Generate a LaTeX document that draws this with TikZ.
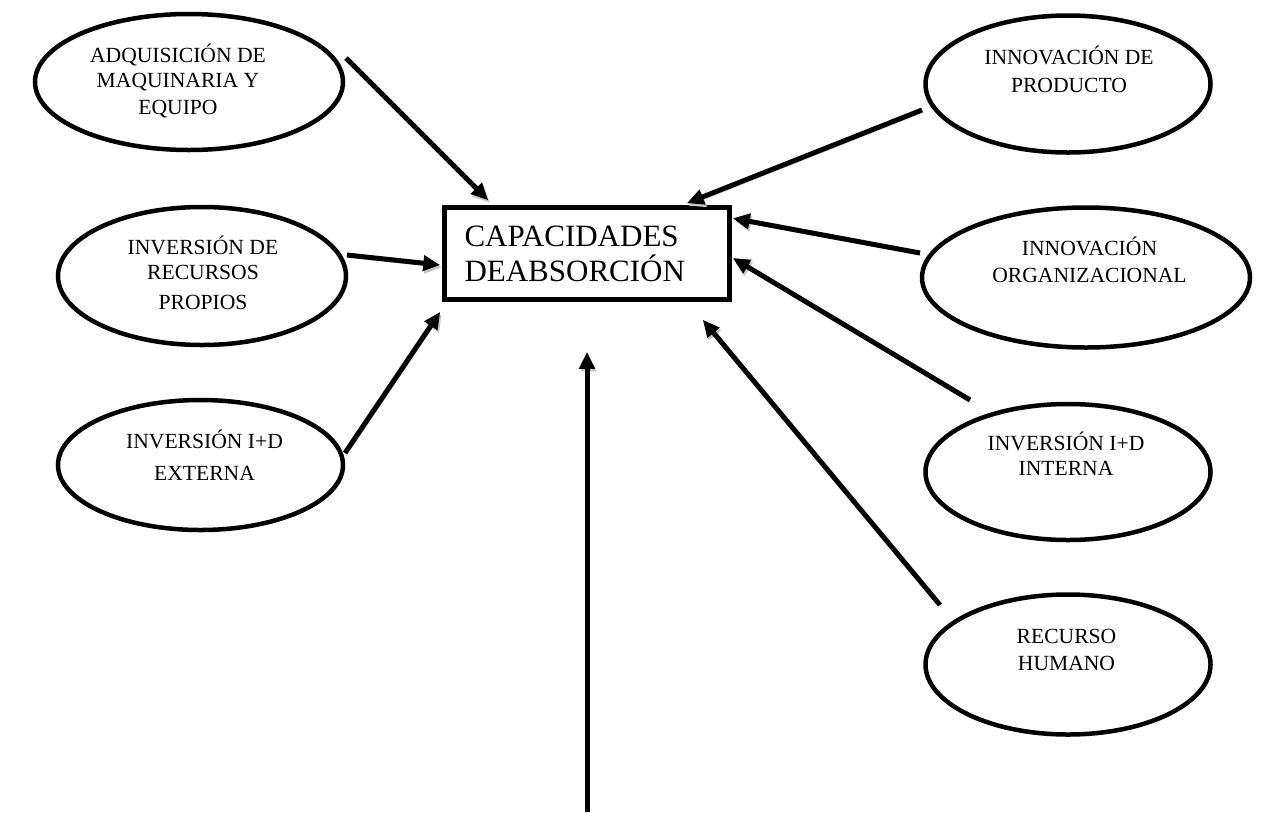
\documentclass[tikz,border=0pt]{standalone}
\usepackage{fontspec}
\setmainfont{Liberation Serif}
\usetikzlibrary{arrows.meta,shapes.geometric,calc}
\begin{document}
\begin{tikzpicture}[x=1pt,y=-1pt,
  ell/.style={draw, ellipse, line width=4.5pt, inner sep=0pt},
  etxt/.style={align=center, inner sep=0pt, font=\fontsize{21.6}{25}\selectfont},
  cbox/.style={draw, rectangle, line width=4.5pt, minimum width=285pt, minimum height=92pt,
    text width=245pt, align=left, inner xsep=20pt, inner ysep=0pt, font=\fontsize{31}{35}\selectfont},
  arr/.style={line width=5pt, -{Triangle[length=17pt,width=15pt]},
    preaction={draw=black!22, transform canvas={xshift=1.5pt,yshift=-2.5pt}}}
]
\fill[white] (0,0) rectangle (1263,812);
\useasboundingbox (0,0) rectangle (1263,812);

% ellipses
\node[ell, minimum width=308pt, minimum height=136pt] (e1) at (189,82) {};
\node[ell, minimum width=288pt, minimum height=138pt] (e2) at (202,276) {};
\node[ell, minimum width=285pt, minimum height=130pt] (e3) at (200.5,465) {};
\node[ell, minimum width=285pt, minimum height=137pt] (e4) at (1068,84) {};
\node[ell, minimum width=328pt, minimum height=140pt] (e5) at (1086,277.5) {};
\node[ell, minimum width=285pt, minimum height=136pt] (e6) at (1068,472) {};
\node[ell, minimum width=285pt, minimum height=140pt] (e7) at (1068,664.5) {};

% ellipse texts
\node[etxt] (l1) at (178,81) {ADQUISICIÓN DE\\MAQUINARIA Y\\[2pt]EQUIPO};
\node[etxt] (l2) at (203,273) {INVERSIÓN DE\\RECURSOS\\[5pt]PROPIOS};
\node[etxt] (l3) at (204.5,455.5) {INVERSIÓN I+D\\[7pt]EXTERNA};
\node[etxt] (l4) at (1069,69.5) {INNOVACIÓN DE\\[3pt]PRODUCTO};
\node[etxt] (l5) at (1089.5,260) {INNOVACIÓN\\[2pt]ORGANIZACIONAL};
\node[etxt] (l6) at (1066,454) {INVERSIÓN I+D\\INTERNA};
\node[etxt] (l7) at (1066.5,649.5) {RECURSO\\[2pt]HUMANO};

% central box
\node[cbox] (box) at (587,253.5) {CAPACIDADES\\DEABSORCIÓN};

% arrow tails
\coordinate (t1) at (346,58);
\coordinate (t2) at (347,255);
\coordinate (t3) at (345,453);
\coordinate (t4) at (922,110);
\coordinate (t5) at (920,253);
\coordinate (t6) at (970,400);
\coordinate (t7) at (940,605);
\coordinate (t8) at (587,812);

% arrows
\draw[arr] (t1) -- ($(box.north west)+(46,-5)$);
\draw[arr] (t2) -- ($(box.west)+(-2,11.5)$);
\draw[arr] (t3) -- ($(box.south west)+(-2,10)$);
\draw[arr] (t4) -- ($(box.north east)+(-45,-2)$);
\draw[arr] (t5) -- ($(box.north east)+(1,13)$);
\draw[arr] (t6) -- ($(box.east)+(1,4.5)$);
\draw[arr] (t7) -- ($(box.south east)+(-29,18)$);
\draw[arr] (t8) -- ($(box.south)+(0,50)$);
\end{tikzpicture}
\end{document}
